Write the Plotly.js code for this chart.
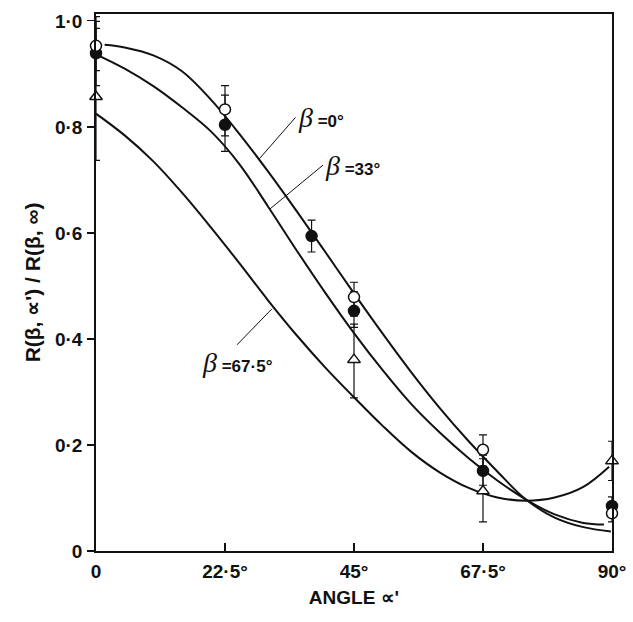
<!DOCTYPE html>
<html>
<head>
<meta charset="utf-8">
<script src="https://cdn.plot.ly/plotly-3.0.1.min.js"></script>
<style>html,body{margin:0;padding:0;background:#fff;}#chart{width:633px;height:622px;}</style>
</head>
<body>
<div id="chart"></div>
<script>
// ---- data ----
// fitted curves (beta = 0, 33, 67.5 deg)
var curveA_x = [1.5, 5, 10, 15, 20, 25, 30, 35, 40, 45, 50, 55, 60, 65, 70, 75, 80, 85, 89.8];
var curveA_y = [0.955, 0.950, 0.935, 0.905, 0.852, 0.787, 0.716, 0.641, 0.564, 0.486, 0.410, 0.337, 0.269, 0.207, 0.150, 0.097, 0.063, 0.045, 0.037];
var curveB_x = [0, 5, 10, 15, 20, 25, 30, 35, 40, 45, 50, 55, 60, 65, 70, 75, 80, 85, 88.6];
var curveB_y = [0.937, 0.910, 0.877, 0.837, 0.792, 0.730, 0.650, 0.567, 0.487, 0.411, 0.341, 0.277, 0.223, 0.175, 0.133, 0.097, 0.069, 0.053, 0.050];
var curveC_x = [0, 5, 10, 15, 20, 25, 30, 35, 40, 45, 50, 55, 60, 65, 70, 75, 80, 85, 89.5];
var curveC_y = [0.825, 0.784, 0.735, 0.676, 0.611, 0.543, 0.473, 0.407, 0.346, 0.290, 0.236, 0.187, 0.148, 0.119, 0.101, 0.095, 0.101, 0.121, 0.159];

// measured points (open circles)
var open_x = [0, 22.5, 45, 67.5, 90];
var open_y = [0.953, 0.833, 0.479, 0.191, 0.071];
var open_up = [0.055, 0.045, 0.028, 0.028, 0.020];
var open_dn = [0.047, 0.050, 0.036, 0.031, 0.016];
// filled circles
var fill_x = [0, 22.5, 37.6, 45, 67.5, 90];
var fill_y = [0.939, 0.804, 0.594, 0.453, 0.151, 0.085];
var fill_up = [0.060, 0.056, 0.030, 0.036, 0.030, 0.017];
var fill_dn = [0.061, 0.050, 0.030, 0.031, 0.027, 0.015];
// open triangles
var tri_x = [0, 45, 67.5, 90];
var tri_y = [0.857, 0.361, 0.113, 0.170];
var tri_up = [0.129, 0.067, 0.061, 0.037];
var tri_dn = [0.120, 0.072, 0.058, 0.037];

// axis ticks
var xTickVals = [0, 22.5, 45, 67.5, 90];
var xTickText = ['0', '22·5°', '45°', '67·5°', '90°'];
var yTickVals = [0, 0.2, 0.4, 0.6, 0.8, 1.0];
var yTickText = ['0', '0·2', '0·4', '0·6', '0·8', '1·0'];

// curve labels
var labelNames = ['β', 'β', 'β'];
var labelValues = ['0°', '33°', '67·5°'];
var labelHeadX = [28.5, 30.2, 30.7];
var labelHeadY = [0.740, 0.644, 0.457];
var labelTailX = [34.8, 39.6, 24.6];
var labelTailY = [0.818, 0.728, 0.389];

// ---- plot ----
var black = '#111';
function curve(x, y) {
  return {x: x, y: y, mode: 'lines', type: 'scatter', line: {color: black, width: 2, shape: 'spline', smoothing: 1}, hoverinfo: 'skip', cliponaxis: false};
}
function pts(x, y, up, dn, symbol, fill) {
  return {x: x, y: y, mode: 'markers', type: 'scatter', cliponaxis: false,
    marker: {symbol: symbol, size: 11, color: fill, line: {color: black, width: 1.5}},
    error_y: {type: 'data', symmetric: false, array: up, arrayminus: dn, color: black, thickness: 1.2, width: 4}};
}
var traces = [
  curve(curveA_x, curveA_y),
  curve(curveB_x, curveB_y),
  curve(curveC_x, curveC_y),
  pts(tri_x, tri_y, tri_up, tri_dn, 'triangle-up', 'white'),
  pts(fill_x, fill_y, fill_up, fill_dn, 'circle', black),
  pts(open_x, open_y, open_up, open_dn, 'circle', 'white')
];

var annotations = [];
var anchors = [['left', 'middle'], ['left', 'middle'], ['center', 'top']];
for (var i = 0; i < labelNames.length; i++) {
  annotations.push({
    x: labelHeadX[i], y: labelHeadY[i], xref: 'x', yref: 'y',
    ax: labelTailX[i], ay: labelTailY[i], axref: 'x', ayref: 'y',
    showarrow: true, arrowhead: 0, arrowwidth: 1, arrowcolor: black,
    xanchor: anchors[i][0], yanchor: anchors[i][1],
    text: '<span style="font-family:Liberation Serif;font-size:28px;font-weight:normal"><i>' + labelNames[i] + '</i></span> =' + labelValues[i],
    font: {family: 'Liberation Sans, Arial, sans-serif', size: 17, color: black, weight: 'bold'}
  });
}

var layout = {
  width: 633, height: 622,
  margin: {l: 96, r: 21, t: 14, b: 71, pad: 0},
  paper_bgcolor: 'white', plot_bgcolor: 'white',
  showlegend: false,
  font: {family: 'Liberation Sans, Arial, sans-serif', color: black, size: 16, weight: 'bold'},
  xaxis: {
    range: [0, 90], tickmode: 'array', tickvals: xTickVals, ticktext: xTickText,
    ticks: 'inside', ticklen: 8, tickwidth: 1.2, tickcolor: black,
    showline: true, linecolor: black, linewidth: 1.8, mirror: true,
    showgrid: false, zeroline: false, ticklabelstandoff: 2,
    tickfont: {size: 19, weight: 'bold'},
    title: {text: 'ANGLE ∝\'', font: {size: 19, weight: 'bold'}, standoff: 10}
  },
  yaxis: {
    range: [0, 1.013], tickmode: 'array', tickvals: yTickVals, ticktext: yTickText,
    ticks: 'outside', ticklen: 7, tickwidth: 1.2, tickcolor: black,
    showline: true, linecolor: black, linewidth: 1.8, mirror: true,
    showgrid: false, zeroline: false, ticklabelstandoff: 1,
    tickfont: {size: 19, weight: 'bold'},
    title: {text: 'R(β, ∝\') / R(β, ∞)', font: {size: 21, weight: 'bold'}, standoff: 8}
  },
  annotations: annotations
};
Plotly.newPlot('chart', traces, layout, {displayModeBar: false, staticPlot: true});
</script>
</body>
</html>
